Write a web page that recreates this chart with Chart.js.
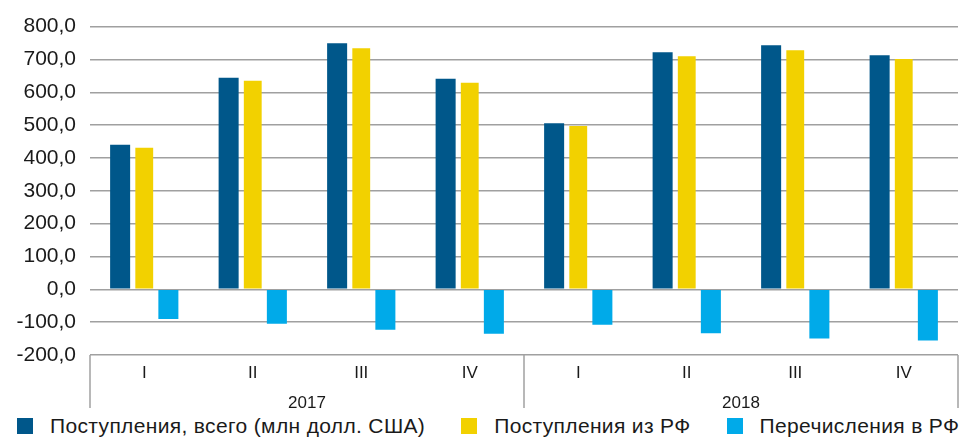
<!DOCTYPE html>
<html lang="ru">
<head>
<meta charset="utf-8">
<title>Поступления и перечисления</title>
<script src="https://cdn.jsdelivr.net/npm/chart.js@4/dist/chart.umd.min.js"></script>
<style>
    body { margin: 0; background: #fff; font-family: 'Liberation Sans', Arial, sans-serif; }
    #wrap { width: 960px; height: 441px; overflow: hidden; }
    #legend { display: flex; align-items: center; height: 30px; padding-left: 17px; gap: 36px; font-size: 21px; letter-spacing: 0.35px; color: #1a1a1a; white-space: nowrap; }
    #legend .item { display: flex; align-items: center; }
    #legend .box { width: 16px; height: 16px; margin-right: 17px; }
</style>
</head>
<body>
<div id="wrap">
    <canvas id="chart" width="960" height="411"></canvas>
    <div id="legend"></div>
</div>
<script>
// Quarters and years
const quarters = ['I', 'II', 'III', 'IV', 'I', 'II', 'III', 'IV'];
const years = ['2017', '2018'];

// Series, mln USD
const totalIn = [440, 644, 749, 641, 506, 722, 743, 713];
const fromRF = [431, 635, 734, 629, 497, 710, 728, 701];
const toRF = [-90, -105, -123, -135, -108, -134, -150, -156];

const seriesNames = ['Поступления, всего (млн долл. США)', 'Поступления из РФ', 'Перечисления в РФ'];
const seriesColors = ['#00578a', '#f2d100', '#00aae9'];

const gridColor = '#a0a0a0';
const textColor = '#1a1a1a';
const fontFamily = "'Liberation Sans', Arial, sans-serif";

// Vertical separators under the plot: left edge, between years, right edge
const yearSeparators = {
    id: 'yearSeparators',
    afterDraw(chart) {
        const { ctx, chartArea } = chart;
        const x = chart.scales.x;
        const bottom = chart.scales.x2.bottom - 3;
        const perYear = quarters.length / years.length;
        const xs = [chartArea.left, chartArea.right];
        for (let i = perYear; i < quarters.length; i += perYear) {
            xs.push((x.getPixelForValue(i - 1) + x.getPixelForValue(i)) / 2);
        }
        ctx.save();
        ctx.strokeStyle = gridColor;
        ctx.lineWidth = 1.5;
        xs.forEach(px => {
            ctx.beginPath();
            ctx.moveTo(px, chartArea.bottom);
            ctx.lineTo(px, bottom);
            ctx.stroke();
        });
        ctx.restore();
    }
};

const chart = new Chart(document.getElementById('chart'), {
    type: 'bar',
    data: {
        labels: quarters,
        datasets: [
            { label: seriesNames[0], data: totalIn, backgroundColor: seriesColors[0], barPercentage: 0.83 },
            { label: seriesNames[1], data: fromRF, backgroundColor: seriesColors[1], barPercentage: 0.74 },
            { label: seriesNames[2], data: toRF, backgroundColor: seriesColors[2], barPercentage: 0.83 }
        ]
    },
    options: {
        responsive: false,
        animation: false,
        events: [],
        layout: { padding: { top: 22, right: 2, left: 0, bottom: 0 } },
        datasets: { bar: { categoryPercentage: 0.667 } },
        plugins: {
            legend: { display: false },
            tooltip: { enabled: false }
        },
        scales: {
            y: {
                min: -200,
                max: 800,
                border: { display: false },
                grid: { color: gridColor, lineWidth: 1.5, drawTicks: false },
                ticks: {
                    stepSize: 100,
                    padding: 14,
                    color: textColor,
                    font: { family: fontFamily, size: 21 },
                    callback: v => v.toFixed(1).replace('.', ',')
                },
                afterFit(scale) { scale.width = 90; }
            },
            x: {
                grid: { display: false },
                border: { display: false },
                ticks: {
                    padding: 0,
                    color: textColor,
                    maxRotation: 0,
                    autoSkip: false,
                    font: { family: fontFamily, size: 17 }
                },
                afterFit(scale) { scale.height = 27; }
            },
            x2: {
                type: 'category',
                labels: years,
                position: 'bottom',
                grid: { display: false },
                border: { display: false },
                ticks: {
                    padding: 3,
                    color: textColor,
                    font: { family: fontFamily, size: 17 }
                },
                afterFit(scale) { scale.height = 29; }
            }
        }
    },
    plugins: [yearSeparators]
});

// Legend below the canvas
document.getElementById('legend').innerHTML = chart.data.datasets.map(ds => `
    <div class="item"><span class="box" style="background: ${ds.backgroundColor};"></span>${ds.label}</div>
`).join('');
</script>
</body>
</html>
